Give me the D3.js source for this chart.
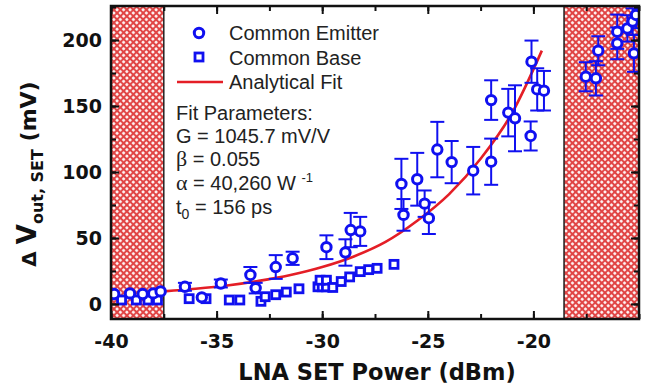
<!DOCTYPE html>
<html><head><meta charset="utf-8">
<script src="https://cdn.jsdelivr.net/npm/d3@7"></script>
<style>
html,body{margin:0;padding:0;background:#fff;}
svg{display:block;}
</style></head>
<body>
<svg id="chart" width="652" height="390"></svg>
<script>
// ---- data ----
const xTicks = [-40, -35, -30, -25, -20];
const yTicks = [0, 50, 100, 150, 200];
const xLabel = "LNA SET Power (dBm)";
const forbiddenLow = [-40, -37.5];
const forbiddenHigh = [-18.55, -15];

// Common Emitter: power, value, error
const ceX = [-39.85, -39.1, -38.5, -38.0, -37.65, -36.5, -35.7, -34.8, -33.4, -33.15, -32.2, -31.4,
             -29.8, -28.9, -28.65, -28.2, -26.25, -26.15, -25.5, -25.15, -24.95,
             -24.55, -23.87, -22.85, -22.0, -22.0, -21.19, -20.87, -20.13, -20.09, -19.82, -19.5,
             -17.52, -17.04, -16.93, -16.03, -16.03, -15.55, -15.3, -15.24, -15.14];
const ceY = [7.5, 8, 7.5, 8, 9.5, 13, 5, 15.5, 22, 12, 28, 34.6,
             43, 39, 56, 55, 91, 67.5, 94.5, 76, 65,
             117, 107.5, 101, 107.8, 154.5, 145, 140.7, 127.3, 183.6, 162.6, 161.6,
             172.2, 171, 191.9, 206.3, 197.5, 208.8, 214, 189.9, 219];
const ceErr = [0, 0, 0, 0, 0, 3, 0, 3, 6, 4, 9, 5,
               9, 10, 13, 11, 19, 12, 20, 10, 12,
               21, 16, 18, 17.5, 15, 18, 25, 11, 16, 16, 15,
               11, 13, 11, 13, 12, 10, 10, 14, 10];

// Common Base: power, value
const cbX = [-39.5, -38.8, -38.25, -37.8, -36.3, -35.5, -34.4, -33.9, -32.9, -32.7, -32.2, -31.7, -31.1,
             -30.2, -30.0, -29.8, -30.1, -29.8, -29.5, -29.1, -28.7, -28.2, -27.8, -27.4, -26.6];
const cbY = [3, 3, 3, 3, 4, 4, 3, 3, 2, 5.5, 7, 9, 11.5,
             13, 13, 13, 18, 18, 12.5, 17, 20.5, 24.5, 26, 27, 30];

// Analytical fit
const fitX = [-37.5, -36, -34.5, -33, -31.5, -30, -28.5, -27, -25.5, -24, -22.5, -21, -19.6];
const fitY = [9.5, 11.5, 14, 17.5, 22, 28, 36, 47, 63, 83, 110, 145, 192];

const legendItems = ["Common Emitter", "Common Base", "Analytical Fit"];

// ---- drawing ----
const svg = d3.select("#chart");
const L = 111, R = 639, T = 6, B = 319;
const x = d3.scaleLinear().domain([-40, -15]).range([L, R]);
const y = d3.scaleLinear().domain([-11.4, 225.8]).range([B, T]);
const blue = "#1010f0", red = "#e41e26";
const fmt = d => String(d); // plain hyphen-minus like the original

const defs = svg.append("defs");
const pat = defs.append("pattern").attr("id", "hatch")
  .attr("patternUnits", "userSpaceOnUse").attr("width", 4.6).attr("height", 4.6)
  .attr("patternTransform", "rotate(45)");
pat.append("rect").attr("width", 4.6).attr("height", 4.6).attr("fill", "#e04444");
pat.append("rect").attr("x", 0.85).attr("y", 0.85).attr("width", 2.9).attr("height", 2.9)
  .attr("rx", 1.2).attr("fill", "#fff6f6");

defs.append("clipPath").attr("id", "clip").append("rect")
  .attr("x", L).attr("y", T).attr("width", R - L).attr("height", B - T);

// forbidden regions
[forbiddenLow, forbiddenHigh].forEach(r => {
  svg.append("rect").attr("x", x(r[0])).attr("y", T)
    .attr("width", x(r[1]) - x(r[0])).attr("height", B - T)
    .attr("fill", "url(#hatch)").attr("stroke", "#222").attr("stroke-width", 1.5);
});

const g = svg.append("g").attr("clip-path", "url(#clip)");

// fit line
const line = d3.line().x(d => x(d[0])).y(d => y(d[1])).curve(d3.curveMonotoneX);
g.append("path").datum(fitX.map((v, i) => [v, fitY[i]]))
  .attr("d", line).attr("fill", "none").attr("stroke", red).attr("stroke-width", 2.6);

// common base squares
g.selectAll(".sq").data(cbX.map((v, i) => [v, cbY[i]])).enter().append("rect")
  .attr("x", d => x(d[0]) - 4).attr("y", d => y(d[1]) - 4)
  .attr("width", 8).attr("height", 8)
  .attr("fill", "#fff").attr("stroke", blue).attr("stroke-width", 2.8);

// common emitter with error bars
const ce = ceX.map((v, i) => ({x: v, y: ceY[i], e: ceErr[i]}));
const eb = g.selectAll(".eb").data(ce.filter(d => d.e > 0)).enter().append("g")
  .attr("stroke", blue).attr("stroke-width", 2);
eb.append("line").attr("x1", d => x(d.x)).attr("x2", d => x(d.x))
  .attr("y1", d => y(d.y - d.e)).attr("y2", d => y(d.y + d.e));
eb.append("line").attr("x1", d => x(d.x) - 7).attr("x2", d => x(d.x) + 7)
  .attr("y1", d => y(d.y + d.e)).attr("y2", d => y(d.y + d.e));
eb.append("line").attr("x1", d => x(d.x) - 7).attr("x2", d => x(d.x) + 7)
  .attr("y1", d => y(d.y - d.e)).attr("y2", d => y(d.y - d.e));
g.selectAll(".ci").data(ce).enter().append("circle")
  .attr("cx", d => x(d.x)).attr("cy", d => y(d.y)).attr("r", 4.7)
  .attr("fill", "#fff").attr("stroke", blue).attr("stroke-width", 3);

// axes
const tickFont = "'DejaVu Sans', Verdana, sans-serif";
function styleAxis(sel) {
  sel.select(".domain").remove();
  sel.selectAll("line").attr("stroke", "#111").attr("stroke-width", 2);
}
const xMinor = d3.range(-40, -14.9, 2.5);
const yMinor = d3.range(0, 226, 25);

const xb = svg.append("g").attr("transform", `translate(0,${B})`)
  .call(d3.axisBottom(x).tickValues(xMinor).tickSize(-5).tickFormat(""));
styleAxis(xb);
const xbM = svg.append("g").attr("transform", `translate(0,${B})`)
  .call(d3.axisBottom(x).tickValues(xTicks).tickSize(-8).tickPadding(16).tickFormat(fmt));
styleAxis(xbM);
xbM.selectAll("text").attr("font-family", tickFont).attr("font-weight", "bold")
  .attr("font-size", 19).attr("fill", "#111");

const xt = svg.append("g").attr("transform", `translate(0,${T})`)
  .call(d3.axisTop(x).tickValues(xMinor).tickSize(-5).tickFormat(""));
styleAxis(xt);
const xtM = svg.append("g").attr("transform", `translate(0,${T})`)
  .call(d3.axisTop(x).tickValues(xTicks).tickSize(-8).tickFormat(""));
styleAxis(xtM);

const yl = svg.append("g").attr("transform", `translate(${L},0)`)
  .call(d3.axisLeft(y).tickValues(yMinor).tickSize(-5).tickFormat(""));
styleAxis(yl);
const ylM = svg.append("g").attr("transform", `translate(${L},0)`)
  .call(d3.axisLeft(y).tickValues(yTicks).tickSize(-8).tickPadding(9).tickFormat(fmt));
styleAxis(ylM);
ylM.selectAll("text").attr("font-family", tickFont).attr("font-weight", "bold")
  .attr("font-size", 19).attr("fill", "#111").attr("x", -9);

const yr = svg.append("g").attr("transform", `translate(${R},0)`)
  .call(d3.axisRight(y).tickValues(yMinor).tickSize(-5).tickFormat(""));
styleAxis(yr);
const yrM = svg.append("g").attr("transform", `translate(${R},0)`)
  .call(d3.axisRight(y).tickValues(yTicks).tickSize(-8).tickFormat(""));
styleAxis(yrM);

// frame
svg.append("rect").attr("x", L).attr("y", T).attr("width", R - L).attr("height", B - T)
  .attr("fill", "none").attr("stroke", "#111").attr("stroke-width", 2.5);

// axis titles
svg.append("text").attr("x", 377).attr("y", 380).attr("text-anchor", "middle")
  .attr("font-family", tickFont).attr("font-weight", "bold").attr("font-size", 22.5)
  .attr("fill", "#111").text(xLabel);

const yt = svg.append("text").attr("transform", "translate(36,174) rotate(-90)")
  .attr("text-anchor", "middle").attr("font-family", tickFont).attr("font-weight", "bold")
  .attr("fill", "#111");
yt.append("tspan").attr("font-size", 20).text("Δ ");
yt.append("tspan").attr("font-size", 26).text("V");
yt.append("tspan").attr("font-size", 16).attr("dy", 7).text("out, SET");
yt.append("tspan").attr("font-size", 22).attr("dy", -7).text(" (mV)");

// legend
const lf = "'Liberation Sans', Arial, Helvetica, sans-serif";
const lg = svg.append("g").attr("font-family", lf).attr("font-size", 20).attr("fill", "#222");
lg.append("circle").attr("cx", 199).attr("cy", 33).attr("r", 4.7)
  .attr("fill", "#fff").attr("stroke", blue).attr("stroke-width", 3);
lg.append("rect").attr("x", 195).attr("y", 53).attr("width", 8).attr("height", 8)
  .attr("fill", "#fff").attr("stroke", blue).attr("stroke-width", 2.8);
lg.append("line").attr("x1", 177).attr("x2", 223).attr("y1", 82).attr("y2", 82)
  .attr("stroke", red).attr("stroke-width", 2.6);
legendItems.forEach((t, i) => {
  lg.append("text").attr("x", 229).attr("y", 40 + i * 24.5).text(t);
});
const pl = 176;
lg.append("text").attr("x", pl).attr("y", 120).text("Fit Parameters:");
lg.append("text").attr("x", pl).attr("y", 143).text("G = 1045.7 mV/V");
const tb = lg.append("text").attr("x", pl).attr("y", 166);
tb.append("tspan").attr("font-family", "'Liberation Serif', 'Times New Roman', serif").attr("font-size", 22).text("β");
tb.append("tspan").text(" = 0.055");
const ta = lg.append("text").attr("x", pl).attr("y", 190);
ta.append("tspan").attr("font-family", "'Liberation Serif', 'Times New Roman', serif").attr("font-size", 22).text("α");
ta.append("tspan").text(" = 40,260 W ");
ta.append("tspan").attr("font-size", 13).attr("dy", -8).text("-1");
const tt = lg.append("text").attr("x", pl).attr("y", 214);
tt.append("tspan").text("t");
tt.append("tspan").attr("font-size", 14).attr("dy", 5).text("0");
tt.append("tspan").attr("dy", -5).text(" = 156 ps");
</script>
</body></html>
